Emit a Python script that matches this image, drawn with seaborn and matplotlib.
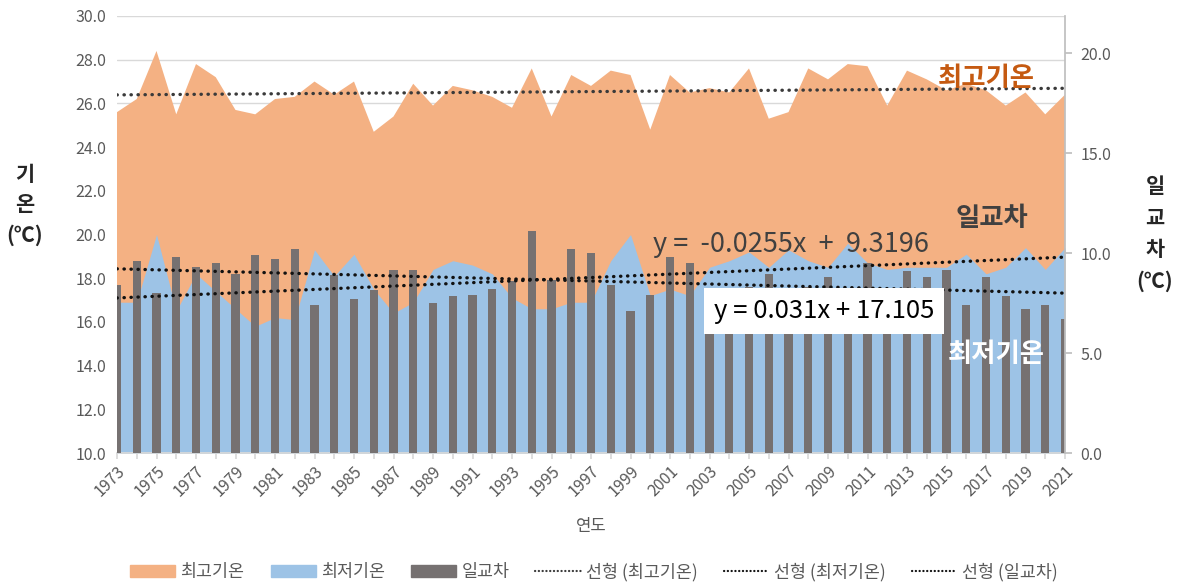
import numpy as np
import matplotlib.pyplot as plt
import seaborn as sns
from matplotlib.patches import Patch
from matplotlib.lines import Line2D

# 연도별 기온 자료
years = list(range(1973, 2022))
tmax = [25.6, 26.2, 28.4, 25.5, 27.8, 27.2, 25.7, 25.5, 26.2, 26.3,
        27.0, 26.4, 27.0, 24.7, 25.4, 26.9, 25.9, 26.8, 26.6, 26.3,
        25.8, 27.6, 25.4, 27.3, 26.8, 27.5, 27.3, 24.8, 27.3, 26.5,
        26.7, 26.5, 27.6, 25.3, 25.6, 27.6, 27.1, 27.8, 27.7, 25.9,
        27.5, 27.1, 26.6, 26.9, 26.6, 25.9, 26.5, 25.5, 26.4]
tmin = [16.9, 16.9, 20.0, 16.5, 18.2, 17.4, 16.6, 15.8, 16.2, 16.1,
        19.3, 18.1, 19.1, 17.5, 16.4, 16.9, 18.4, 18.8, 18.6, 18.2,
        17.1, 16.6, 16.6, 16.9, 16.9, 18.8, 20.0, 17.2, 17.5, 17.2,
        18.5, 18.8, 19.2, 18.5, 19.3, 18.8, 18.5, 19.6, 18.7, 18.4,
        18.5, 18.5, 18.5, 19.1, 18.2, 18.5, 19.4, 18.4, 19.4]
drange = [8.4, 9.6, 8.0, 9.8, 9.3, 9.5, 8.95, 9.9, 9.7, 10.2,
          7.4, 8.9, 7.7, 8.15, 9.15, 9.15, 7.5, 7.85, 7.9, 8.2,
          8.6, 11.1, 8.65, 10.2, 10.0, 8.4, 7.1, 7.9, 9.8, 9.5,
          8.2, 7.8, 8.3, 8.95, 7.0, 8.3, 8.8, 8.1, 9.5, 7.6,
          9.1, 8.8, 9.15, 7.4, 8.8, 7.85, 7.2, 7.4, 6.7]

left_ticks = list(range(10, 31, 2))
right_ticks = [0, 5, 10, 15, 20]
legend_labels = ['최고기온', '최저기온', '일교차',
                 '선형 (최고기온)', '선형 (최저기온)', '선형 (일교차)']

sns.set_theme(style='white')
plt.rcParams['font.family'] = ['Noto Sans CJK KR', 'DejaVu Sans']

c_max, c_min, c_rng = '#F4B183', '#9DC3E6', '#767171'
gray_txt = '#595959'
dot = dict(ls=(0, (0.1, 2.0)), lw=2.4, dash_capstyle='round')

fig = plt.figure(figsize=(11.81, 5.84), dpi=100)
ax = fig.add_axes([117 / 1181, 1 - 453 / 584, 948 / 1181, 437 / 584])

ax.fill_between(years, tmax, 0, color=c_max, lw=0)
ax.fill_between(years, tmin, 0, color=c_min, lw=0)
ax.set_ylim(10, 30)
ax.set_yticks(left_ticks)
ax.set_yticklabels([f'{v:.1f}' for v in left_ticks])
ax.grid(axis='y', color='#D9D9D9', lw=1)
ax.set_axisbelow(True)

# 일교차 막대 (보조축)
ax2 = ax.twinx()
sns.barplot(x=years, y=drange, native_scale=True, color=c_rng, saturation=1,
            width=0.42, errorbar=None, linewidth=0, edgecolor='none', ax=ax2)
sns.regplot(x=years, y=drange, scatter=False, ci=None, color='#111111',
            line_kws=dot, ax=ax2)
ax2.set_ylim(0, 21.85)
ax2.set_yticks(right_ticks)
ax2.set_yticklabels([f'{v:.1f}' for v in right_ticks])

# 기온 추세선
ax3 = ax.twinx()
sns.regplot(x=years, y=tmax, scatter=False, ci=None, color='#3a3a3a',
            line_kws=dot, ax=ax3)
sns.regplot(x=years, y=tmin, scatter=False, ci=None, color='#111111',
            line_kws=dot, ax=ax3)
ax3.set_ylim(10, 30)
ax3.axis('off')

for a in (ax, ax2, ax3):
    a.set_xlim(1973, 2021)
    a.set_xlabel('')
    a.set_ylabel('')

ax.set_xticks(years)
ax.set_xticklabels([str(y) if (y - 1973) % 2 == 0 else '' for y in years],
                   rotation=45, ha='right', rotation_mode='anchor')
ax.tick_params(axis='x', length=4, color='#D9D9D9', labelsize=11.5,
               labelcolor=gray_txt, bottom=True, pad=3)
ax.tick_params(axis='y', length=0, labelsize=11.5, labelcolor=gray_txt, pad=8)
ax2.tick_params(axis='y', right=True, length=5, color='#BFBFBF',
                labelsize=11.5, labelcolor=gray_txt, pad=6)
for s in ('top', 'left', 'right'):
    ax.spines[s].set_visible(False)
ax.spines['bottom'].set_color('#D9D9D9')
for s in ('top', 'left', 'bottom'):
    ax2.spines[s].set_visible(False)
ax2.spines['right'].set_color('#BFBFBF')

# 그림 안 글자
ax3.text(2017.0, 27.15, '최고기온', color='#C55A11', fontsize=19,
         fontweight='bold', ha='center', va='center')
ax3.text(2017.3, 20.75, '일교차', color='#404040', fontsize=19,
         fontweight='bold', ha='center', va='center')
ax3.text(2017.5, 14.5, '최저기온', color='white', fontsize=19,
         fontweight='bold', ha='center', va='center')
ax3.text(2007.1, 19.52, 'y =  -0.0255x  +  9.3196', color='#404040',
         fontsize=19.5, ha='center', va='center')
ax3.text(2008.8, 16.5, 'y = 0.031x + 17.105', color='black', fontsize=18.5,
         ha='center', va='center',
         bbox=dict(fc='white', ec='none', boxstyle='square,pad=0.38'))

fig.text(25 / 1181, 1 - 205 / 584, '기\n온\n(℃)', fontsize=15,
         fontweight='bold', ha='center', va='center', linespacing=1.55)
fig.text(1155 / 1181, 1 - 234 / 584, '일\n교\n차\n(℃)', fontsize=15,
         fontweight='bold', ha='center', va='center', linespacing=1.6)
fig.text(591 / 1181, 1 - 527 / 584, '연도', fontsize=12, color=gray_txt,
         ha='center', va='center')

handles = [Patch(color=c_max), Patch(color=c_min), Patch(color=c_rng),
           Line2D([], [], color='#3a3a3a', ls=(0, (0.1, 1.6)), lw=1.6,
                  dash_capstyle='round'),
           Line2D([], [], color='#111111', ls=(0, (0.1, 1.6)), lw=1.6,
                  dash_capstyle='round'),
           Line2D([], [], color='#111111', ls=(0, (0.1, 1.6)), lw=1.6,
                  dash_capstyle='round')]
fig.legend(handles, legend_labels, loc='center',
           bbox_to_anchor=(594 / 1181, 1 - 572 / 584), ncol=6, frameon=False,
           fontsize=12.5, handlelength=2.6, handletextpad=0.3,
           columnspacing=1.5, labelcolor=gray_txt)

fig.savefig('out.png', dpi=100)
